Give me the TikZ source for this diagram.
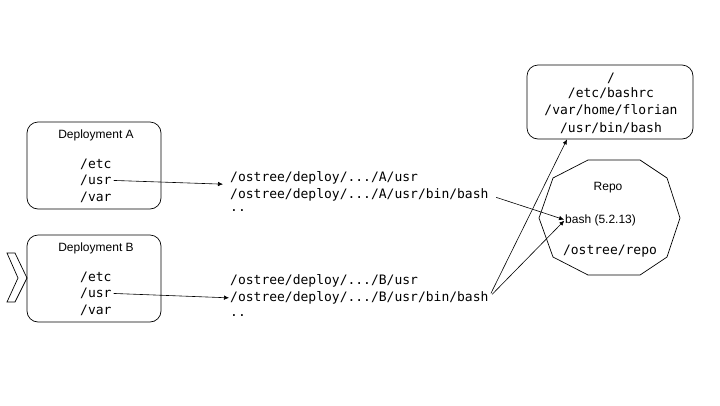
\documentclass[tikz,border=0pt]{standalone}
\usepackage{fontspec}
\setmainfont{Liberation Sans}
\newfontfamily\pathfont{DejaVu Sans Mono}
\usetikzlibrary{calc}
\usetikzlibrary{arrows.meta}
\tikzset{
	roundbox/.style={draw=black,rounded corners=11pt,line width=0.7pt,inner sep=0pt},
	pathtext/.style={font=\pathfont\fontsize{13}{15}\selectfont,inner sep=0pt},
	caption/.style={font=\fontsize{12}{14}\selectfont,inner sep=0pt},
	link/.style={-{Latex[length=5pt,width=4.5pt]},line width=0.6pt}
}
\newcommand{\deployment}[2]{%
	\begin{scope}[shift={(0,#1)}]%
		\node[roundbox,minimum width=134pt,minimum height=87pt] (deploy#2) at (94,165.5) {};%
		\node[caption,anchor=base] (title#2) at (96,138) {Deployment #2};%
		\node[pathtext,anchor=base west] (etc#2) at (80,168) {/etc};%
		\node[pathtext,anchor=base west] (usr#2) at (80,184.5) {/usr};%
		\node[pathtext,anchor=base west] (var#2) at (80,201) {/var};%
	\end{scope}%
}

\begin{document}
\begin{tikzpicture}[x=1pt,y=-1pt]
	\useasboundingbox (0,0) rectangle (720,405);
	\deployment{0}{A}
	\deployment{113}{B}
	\draw[line width=0.7pt] (7,253) -- (15,253) -- (27,278) -- (15,302) -- (7,302) -- (18,278) -- cycle;
	\node[pathtext,anchor=base west] (usrpathA) at (230,181.5) {/ostree/deploy/.../A/usr};
	\node[pathtext,anchor=base west] (bashpathA) at (230,198.5) {/ostree/deploy/.../A/usr/bin/bash};
	\node[pathtext,anchor=base west] (moreA) at (230,211) {..};
	\node[pathtext,anchor=base west] (usrpathB) at (230,284.5) {/ostree/deploy/.../B/usr};
	\node[pathtext,anchor=base west] (bashpathB) at (230,301.5) {/ostree/deploy/.../B/usr/bin/bash};
	\node[pathtext,anchor=base west] (moreB) at (230,316) {..};
	\node[roundbox,minimum width=166pt,minimum height=74pt] (rootbox) at (610,102) {};
	\node[pathtext,anchor=base] (rootdir) at (611,82.5) {/};
	\node[pathtext,anchor=base] (bashrc) at (611,97.5) {/etc/bashrc};
	\node[pathtext,anchor=base] (homedir) at (611,114.5) {/var/home/florian};
	\node[pathtext,anchor=base] (binbash) at (611,132) {/usr/bin/bash};
	\coordinate (rootin) at ($ (rootbox.south) + (-43,0) $);
	\draw[line width=0.7pt] (588,160) -- (640,160) -- (667,178) -- (680,218) -- (667,257) -- (640,275) -- (588,275) -- (553,257) -- (539,218) -- (553,178) -- cycle;
	\node[caption,anchor=base] (repotitle) at (608,190) {Repo};
	\node[caption,anchor=base west] (repobash) at (565,223) {bash (5.2.13)};
	\node[pathtext,anchor=base] (repodir) at (610,254) {/ostree/repo};
	\draw[link,shorten <=2pt,shorten >=7pt] (usrA.east) -- (usrpathA.south west);
	\draw[link,shorten <=2pt,shorten >=1pt] (usrB.east) -- (bashpathB.west);
	\draw[link,shorten <=8pt,shorten >=1pt] (bashpathA.east) -- (repobash.west);
	\draw[link,shorten <=5pt,shorten >=1pt] (bashpathB.east) -- (repobash.west);
	\draw[link,shorten <=5pt] (bashpathB.east) -- (rootin);
\end{tikzpicture}
\end{document}
